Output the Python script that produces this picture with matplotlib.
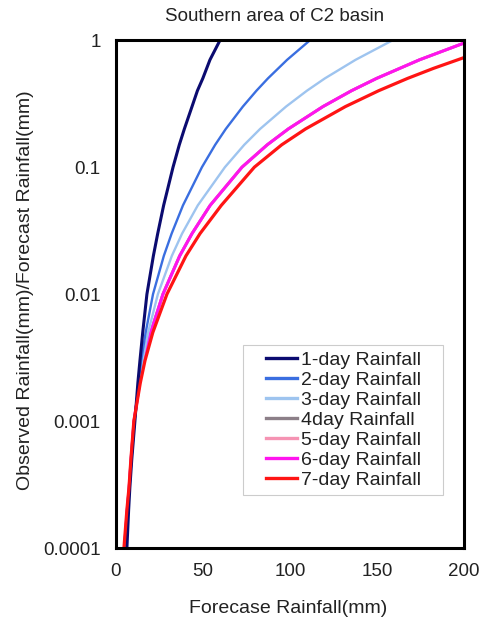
import matplotlib
matplotlib.use('Agg')
import matplotlib.pyplot as plt
from matplotlib.ticker import FixedLocator, FixedFormatter
from matplotlib.patches import Rectangle

plt.rcParams['font.family'] = ['Liberation Sans', 'DejaVu Sans']

####################################
# Data
####################################

# ratio levels (Observed/Forecast) the curves were read at
ratio = [0.0001, 0.0002, 0.0003, 0.0005, 0.001, 0.002, 0.003, 0.005, 0.01, 0.02,
         0.03, 0.05, 0.1, 0.15, 0.2, 0.3, 0.4, 0.5, 0.7, 1.0]

# forecast rainfall (mm) where each curve crosses those levels
fc_1day = [6.3, 7.3, 8.0, 9.1, 10.9, 12.6, 13.8, 15.4, 17.8, 21.5,
           24.0, 27.4, 32.8, 36.4, 39.3, 43.7, 46.8, 49.9, 54.0, 59.8]
fc_2day = [5.8, 7.0, 7.8, 8.9, 10.7, 13.0, 14.5, 17.1, 21.3, 27.5,
           32.0, 38.5, 49.4, 57.0, 63.1, 72.9, 80.7, 87.3, 98.3, 111.5]
fc_3day = [5.3, 6.7, 7.7, 8.8, 10.6, 13.3, 15.2, 18.5, 24.1, 32.1,
           38.0, 47.0, 62.6, 73.7, 82.8, 97.7, 109.7, 120.0, 137.6, 159.0]

# 4-, 5- and 6-day lie on top of each other, the 6-day one is drawn last
ratio_6day = ratio[:-1] + [0.95]
fc_4day = [4.9, 6.5, 7.6, 8.7, 10.4, 13.6, 16.0, 20.0, 27.0, 36.6,
           43.7, 54.1, 72.4, 86.9, 99.0, 118.9, 135.3, 149.7, 174.3, 200.0]
fc_5day = [4.9, 6.5, 7.6, 8.7, 10.4, 13.6, 16.0, 20.0, 27.0, 36.6,
           43.7, 54.1, 72.4, 86.9, 99.0, 118.9, 135.3, 149.7, 174.3, 200.0]
fc_6day = [4.9, 6.5, 7.6, 8.7, 10.4, 13.6, 16.0, 20.0, 27.0, 36.6,
           43.7, 54.1, 72.4, 86.9, 99.0, 118.9, 135.3, 149.7, 174.3, 200.0]

ratio_7day = ratio[:-2] + [0.6, 0.73]
fc_7day = [4.6, 6.3, 7.5, 8.6, 10.3, 14.0, 16.7, 21.2, 29.3, 40.2,
           48.3, 60.5, 79.5, 95.2, 108.9, 131.8, 150.9, 167.5, 182.4, 200.0]

labels = ['1-day Rainfall', '2-day Rainfall', '3-day Rainfall', '4day Rainfall',
          '5-day Rainfall', '6-day Rainfall', '7-day Rainfall']
colours = ['#0b0b70', '#3a6ee0', '#9ec4ef', '#8c7f88', '#f593b3', '#ff14ee', '#ff1414']
widths = [2.2, 1.7, 1.7, 2.0, 2.0, 2.2, 2.3]

x_ticks = [0, 50, 100, 150, 200]
y_ticks = [0.0001, 0.001, 0.01, 0.1, 1]
y_tick_labels = ['0.0001', '0.001', '0.01', '0.1', '1']

####################################
# Plot
####################################

fig = plt.figure(figsize=(4.81, 6.18), dpi=100)
ax = fig.add_axes([0.241, 0.113, 0.724, 0.822])

series = [(fc_1day, ratio), (fc_2day, ratio), (fc_3day, ratio), (fc_4day, ratio_6day),
          (fc_5day, ratio_6day), (fc_6day, ratio_6day), (fc_7day, ratio_7day)]
zorders = [7, 6, 5, 2, 3, 4, 8]
for (xs, ys), lab, c, lw, z in zip(series, labels, colours, widths, zorders):
    ax.plot(xs, ys, color=c, lw=lw, label=lab, zorder=z)

ax.set_yscale('log')
ax.set_xlim(0, 200)
ax.set_ylim(0.0001, 1)
ax.xaxis.set_major_locator(FixedLocator(x_ticks))
ax.yaxis.set_major_locator(FixedLocator(y_ticks))
ax.yaxis.set_major_formatter(FixedFormatter(y_tick_labels))
ax.yaxis.set_minor_locator(FixedLocator([]))
ax.tick_params(axis='both', length=0, labelsize=13.5, colors='#222222')
ax.tick_params(axis='y', pad=11)
ax.tick_params(axis='x', pad=11)

for s in ax.spines.values():
    s.set_linewidth(2.2)
    s.set_color('black')
    s.set_zorder(10)

fig.text(0.57, 0.973, 'Southern area of C2 basin', fontsize=13.5, color='#222222',
         ha='center', va='center')
fig.text(0.599, 0.016, 'Forecase Rainfall(mm)', fontsize=14, color='#222222',
         ha='center', va='center')
fig.text(0.052, 0.531, 'Observed Rainfall(mm)/Forecast Rainfall(mm)', fontsize=14,
         color='#222222', ha='center', va='center', rotation=90)

# legend box drawn by hand (wide side margins, tight top/bottom)
ax.add_patch(Rectangle((0.365, 0.104), 0.575, 0.296, transform=ax.transAxes,
                       facecolor='white', edgecolor='#cccccc', lw=0.8, zorder=9))
leg = ax.legend(loc='center', bbox_to_anchor=(0.6525, 0.252), fontsize=14,
                frameon=False, handlelength=1.6, handletextpad=0.2,
                labelspacing=0.12, borderpad=0, borderaxespad=0)
leg.set_zorder(11)
for t in leg.get_texts():
    t.set_color('#222222')
for h in leg.get_lines():
    h.set_linewidth(2.4)

fig.savefig('out.png', dpi=100)
